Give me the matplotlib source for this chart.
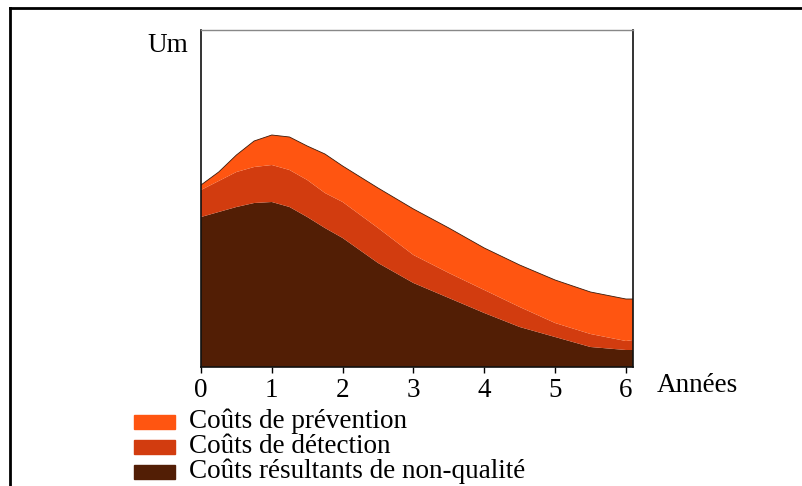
import matplotlib.pyplot as plt
from matplotlib.lines import Line2D
from matplotlib.patches import Rectangle

# years and stacked layers (arbitrary units)
annees = [0, 0.25, 0.5, 0.75, 1, 1.25, 1.5, 1.75, 2, 2.5, 3, 3.5, 4, 4.5, 5, 5.5, 6, 6.1]
non_qualite = [150, 155, 160, 164, 165, 160, 150, 139, 129, 104, 84, 69, 54, 40, 30, 20, 17, 17]
detection = [27, 31, 35, 36, 37, 37, 37, 35, 36, 35, 28, 25, 23, 20, 14, 13, 9, 10]
prevention = [5, 9, 17, 26, 30, 33, 34, 39, 36, 40, 46, 45, 42, 42, 43, 42, 42, 41]
ticks = [0, 1, 2, 3, 4, 5, 6]

c_prev = '#FF5511'
c_det = '#D23C0F'
c_nq = '#521E05'

plt.rcParams['font.family'] = ['Liberation Serif', 'DejaVu Serif']
W, H = 803, 486

fig = plt.figure(figsize=(W / 100, H / 100), dpi=100)
ax = fig.add_axes([201 / W, 119 / H, 432 / W, 337 / H])

ax.stackplot(annees, non_qualite, detection, prevention,
             colors=[c_nq, c_det, c_prev], linewidth=0)
top = [a + b + c for a, b, c in zip(non_qualite, detection, prevention)]
ax.plot(annees, top, color='#3a1a0a', lw=0.6)

ax.set_xlim(0, 6.1)
ax.set_ylim(0, 337)
ax.set_yticks([])
ax.set_xticks(ticks)
ax.set_xticklabels([str(t) for t in ticks], fontsize=19.5)
ax.tick_params(axis='x', length=4, width=1, pad=4, direction='out')
ax.spines['top'].set_color('#888888')
ax.spines['top'].set_linewidth(1)
for s in ['left', 'right', 'bottom']:
    ax.spines[s].set_linewidth(1.2)
    ax.spines[s].set_color('#111111')

fig.text(188 / W, 1 - 45 / H, 'Um', fontsize=19.5, ha='right', va='center')
fig.text(657 / W, 1 - 385 / H, 'Années', fontsize=19.5, ha='left', va='center')

# legend drawn by hand
labels = ['Coûts de prévention', 'Coûts de détection',
          'Coûts résultants de non-qualité']
colors = [c_prev, c_det, c_nq]
for i, (lab, col) in enumerate(zip(labels, colors)):
    yc = 422 + 25 * i
    fig.add_artist(Rectangle((134 / W, 1 - (yc + 7) / H), 41 / W, 14 / H,
                             transform=fig.transFigure, color=col))
    fig.text(189 / W, 1 - (yc - 1) / H, lab, fontsize=19.5, ha='left', va='center')

# outer frame (left and top edges)
fig.add_artist(Line2D([10 / W, 10 / W], [0, 1 - 8 / H], color='black', lw=2))
fig.add_artist(Line2D([10 / W, 1], [1 - 8 / H, 1 - 8 / H], color='black', lw=2))

fig.savefig('out.png', dpi=100)
